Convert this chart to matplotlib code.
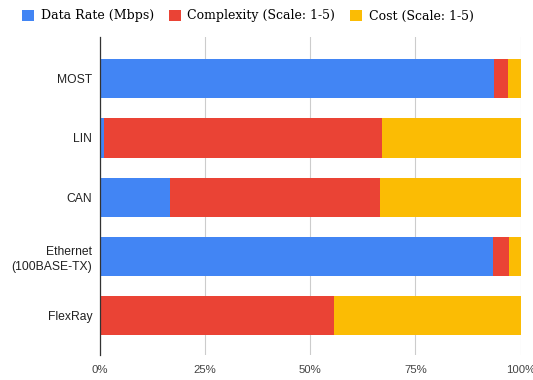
import numpy as np
import matplotlib
matplotlib.use('Agg')
import matplotlib.pyplot as plt
from matplotlib.ticker import PercentFormatter

# Bus protocols, top to bottom
protocols = ['MOST', 'LIN', 'CAN', 'Ethernet\n(100BASE-TX)', 'FlexRay']
data_rate = [150, 0.03, 1, 100, 0]      # Mbps
complexity = [5, 2, 3, 4, 5]            # scale 1-5
cost = [5, 1, 2, 3, 4]                  # scale 1-5

series_names = ['Data Rate (Mbps)', 'Complexity (Scale: 1-5)', 'Cost (Scale: 1-5)']
colors = ['#4285F4', '#EA4335', '#FBBC04']

vals = np.array([data_rate, complexity, cost], dtype=float)
pct = vals / vals.sum(axis=0) * 100

fig = plt.figure(figsize=(5.33, 3.8), dpi=100)
ax = fig.add_axes([0.187, 0.066, 0.790, 0.836])

y = np.arange(len(protocols))
left = np.zeros(len(protocols))
handles = []
for p, name, c in zip(pct, series_names, colors):
    h = ax.barh(y, p, left=left, height=0.66, color=c, label=name, zorder=2)
    handles.append(h)
    left += p

ax.set_xlim(0, 100)
ax.set_ylim(4.66, -0.70)
ax.set_yticks(y)
ax.set_yticklabels(protocols, fontsize=8.7, color='#222222', family='Liberation Sans',
                   linespacing=1.35)
ax.set_xticks([0, 25, 50, 75, 100])
ax.xaxis.set_major_formatter(PercentFormatter(decimals=0))
for lab in ax.get_xticklabels():
    lab.set_family('Liberation Sans')
    lab.set_fontsize(8.2)
    lab.set_color('#444444')
ax.tick_params(axis='y', length=0, pad=5.3)
ax.tick_params(axis='x', length=0, pad=7.5)
ax.grid(axis='x', color='#cccccc', linewidth=0.8, zorder=0)
for s in ['top', 'right', 'bottom']:
    ax.spines[s].set_visible(False)
ax.spines['left'].set_color('#333333')
ax.spines['left'].set_linewidth(0.9)
ax.spines['left'].set_zorder(3)

fig.legend(handles=handles, loc='center', bbox_to_anchor=(0.465, 0.958), ncol=3,
           frameon=False, prop={'family': 'DejaVu Serif', 'size': 9},
           handlelength=0.95, handleheight=0.95, handletextpad=0.55, columnspacing=1.2)

fig.savefig('out.png', dpi=100)
